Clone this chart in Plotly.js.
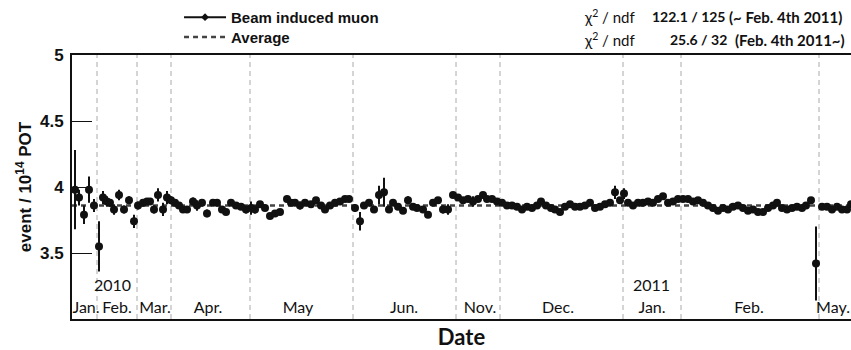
<!DOCTYPE html>
<html>
<head>
<meta charset="utf-8">
<script src="https://cdn.plot.ly/plotly-3.0.1.min.js"></script>
<style>
  html, body { margin: 0; padding: 0; background: #fff; }
  #chart { width: 851px; height: 350px; }
</style>
</head>
<body>
<div id="chart"></div>
<script>
// Position along the compressed run timeline (one unit per run-period step)
const runPos = [
  3, 7, 12, 17, 22,                                                       // Jan 2010
  27, 31, 35, 38, 42, 47, 52, 57, 62,                                     // Feb
  66, 71, 75, 78, 82, 86, 91, 95,                                         // Mar
  99, 103, 107, 111, 115, 121, 125, 130, 135, 141, 145, 150, 154, 159, 164, 169, 174, // Apr
  179, 183, 188, 193, 198, 203, 208, 215, 219, 223, 228, 233, 239, 244, 249, 253, 258, 263, 268, 273, 277, // May
  283, 288, 292, 297, 302, 307, 312, 317, 321, 326, 331, 336, 341, 345, 351, 356, 361, 366, 371, 376, 381, // Jun
  386, 391, 396, 401, 406, 411, 415, 420, 425,                            // Nov
  430, 435, 440, 445, 450, 455, 460, 465, 469, 474, 479, 483, 488, 493, 498, 503, 508, 513, 518, 523, 528, 533, 538, 543, 548, // Dec
  552, 556, 561, 566, 571, 576, 581, 586, 591, 596, 601, 606,             // Jan 2011
  611, 616, 621, 626, 631, 636, 641, 646, 651, 656, 661, 666, 671, 676, 681, 686, 691, 696, 701, 705, 710, 715, 720, 725, 730, 734, 739, 744, // Feb
  750, 755, 760, 765, 770, 775, 779                                       // May
];

// Beam induced muon events per 1e14 POT
const muonRate = [
  3.98, 3.92, 3.79, 3.98, 3.86,
  3.55, 3.92, 3.89, 3.88, 3.83, 3.94, 3.83, 3.90, 3.74,
  3.86, 3.88, 3.89, 3.89, 3.83, 3.94, 3.83, 3.92,
  3.90, 3.88, 3.86, 3.83, 3.83, 3.89, 3.86, 3.88, 3.80, 3.88, 3.88, 3.83, 3.81, 3.88, 3.86, 3.85, 3.83,
  3.84, 3.83, 3.87, 3.84, 3.78, 3.80, 3.81, 3.91, 3.88, 3.88, 3.86, 3.88, 3.87, 3.90, 3.86, 3.83, 3.86, 3.88, 3.89, 3.91, 3.91,
  3.84, 3.74, 3.86, 3.88, 3.83, 3.94, 3.96, 3.83, 3.88, 3.85, 3.82, 3.90, 3.85, 3.84, 3.83, 3.79, 3.88, 3.90, 3.83, 3.83, 3.94,
  3.92, 3.90, 3.91, 3.89, 3.91, 3.94, 3.91, 3.91, 3.89,
  3.88, 3.86, 3.86, 3.85, 3.83, 3.85, 3.84, 3.86, 3.89, 3.86, 3.84, 3.83, 3.81, 3.85, 3.87, 3.85, 3.85, 3.86, 3.88, 3.84, 3.85, 3.87, 3.88, 3.96, 3.90,
  3.95, 3.88, 3.86, 3.88, 3.88, 3.89, 3.88, 3.91, 3.93, 3.88, 3.89, 3.91,
  3.91, 3.91, 3.89, 3.90, 3.88, 3.86, 3.84, 3.82, 3.84, 3.83, 3.85, 3.86, 3.84, 3.82, 3.83, 3.81, 3.81, 3.84, 3.86, 3.88, 3.84, 3.83, 3.84, 3.85, 3.84, 3.86, 3.90, 3.42,
  3.85, 3.85, 3.83, 3.85, 3.83, 3.83, 3.87
];

// Statistical uncertainty of each point
const muonErr = [
  0.30, 0.06, 0.07, 0.10, 0.05,
  0.19, 0.05, 0.04, 0.03, 0.04, 0.04, 0.03, 0.03, 0.05,
  0.03, 0.03, 0.02, 0.02, 0.03, 0.05, 0.05, 0.05,
  0.03, 0.02, 0.02, 0.02, 0.02, 0.03, 0.04, 0.02, 0.03, 0.02, 0.02, 0.02, 0.02, 0.02, 0.02, 0.02, 0.03,
  0.05, 0.03, 0.02, 0.02, 0.02, 0.02, 0.02, 0.02, 0.02, 0.02, 0.03, 0.02, 0.02, 0.02, 0.02, 0.02, 0.02, 0.02, 0.02, 0.02, 0.02,
  0.03, 0.07, 0.02, 0.02, 0.02, 0.07, 0.11, 0.02, 0.02, 0.02, 0.02, 0.03, 0.02, 0.02, 0.02, 0.02, 0.02, 0.02, 0.03, 0.04, 0.02,
  0.02, 0.02, 0.02, 0.04, 0.02, 0.02, 0.02, 0.02, 0.02,
  0.02, 0.02, 0.02, 0.02, 0.02, 0.02, 0.02, 0.02, 0.02, 0.02, 0.02, 0.02, 0.02, 0.02, 0.02, 0.02, 0.02, 0.02, 0.02, 0.02, 0.02, 0.02, 0.02, 0.05, 0.02,
  0.04, 0.02, 0.02, 0.02, 0.02, 0.02, 0.02, 0.02, 0.02, 0.02, 0.02, 0.02,
  0.02, 0.02, 0.02, 0.02, 0.02, 0.02, 0.02, 0.02, 0.02, 0.02, 0.02, 0.02, 0.02, 0.02, 0.02, 0.02, 0.02, 0.02, 0.02, 0.02, 0.02, 0.02, 0.02, 0.02, 0.02, 0.02, 0.02, 0.28,
  0.02, 0.02, 0.02, 0.02, 0.02, 0.02, 0.02
];

const averageRate = 3.86;

// Run-period boundaries and month labels along the timeline
const monthBounds = [25, 65, 99, 178, 281, 384, 428, 551, 609, 747];
const monthCenters = [14, 45, 83, 136, 226, 332, 408, 486, 580, 677, 761];
const monthNames = ['Jan.', 'Feb.', 'Mar.', 'Apr.', 'May', 'Jun.', 'Nov.', 'Dec.', 'Jan.', 'Feb.', 'May.'];
const yearPos = [40, 579];
const yearNames = ['2010', '2011'];
const xRange = [0, 779];

const yTicks = [3, 3.5, 4, 4.5, 5];
const yTickText = ['3', '3.5', '4', '4.5', '5'];

// Fit quality before / after the Feb. 4th 2011 split
const fitLabel = 'χ<sup>2</sup> / ndf';
const fitValues = ['122.1 / 125', '25.6 / 32'];
const fitNotes = ['(~ Feb. 4th 2011)', '(Feb. 4th 2011~)'];

const sans = 'Liberation Sans, Arial, sans-serif';
const soft = 'Lato, Open Sans, sans-serif';

const traces = [
  {
    x: xRange, y: [averageRate, averageRate],
    type: 'scatter', mode: 'lines', name: 'Average', legend: 'legend2',
    line: { color: '#444', width: 2.5, dash: '5px,4px' },
    hoverinfo: 'skip'
  },
  {
    x: runPos, y: muonRate,
    type: 'scatter', mode: 'markers', name: 'Beam induced muon',
    showlegend: false,
    marker: { color: '#111', size: 8, symbol: 'circle' },
    error_y: { type: 'data', array: muonErr, visible: true, color: '#111', thickness: 2, width: 0 },
    cliponaxis: true
  },
  {
    // legend entry for the measured points
    x: [null], y: [null],
    type: 'scatter', mode: 'lines+markers', name: 'Beam induced <b>muon</b>', legend: 'legend',
    line: { color: '#111', width: 2 },
    marker: { color: '#111', size: 6, symbol: 'diamond' }
  }
];

const shapes = monthBounds.map(b => ({
  type: 'line', xref: 'x', yref: 'paper', x0: b, x1: b, y0: 0, y1: 1,
  line: { color: '#aaa', width: 1, dash: '5px,4px' }, layer: 'below'
}));

const annotations = [];
yearNames.forEach((t, i) => annotations.push({
  x: yearPos[i], y: 3.26, xref: 'x', yref: 'y', text: t, showarrow: false,
  font: { family: soft, size: 16, color: '#111' }, xanchor: 'center', yanchor: 'middle'
}));
const fitRowY = [17, 40];
const fitValueLeft = [578, 596];
const fitNoteLeft = [655, 661];
fitValues.forEach((v, i) => {
  const py = (319 - fitRowY[i]) / 264;
  annotations.push({ x: 510, y: py, xref: 'x', yref: 'paper', text: fitLabel, showarrow: false,
    font: { family: soft, size: 15, color: '#111' }, xanchor: 'left', yanchor: 'middle' });
  annotations.push({ x: fitValueLeft[i], y: py, xref: 'x', yref: 'paper', text: v, showarrow: false,
    font: { family: soft, size: 14, color: '#111', weight: 'bold' }, xanchor: 'left', yanchor: 'middle' });
  annotations.push({ x: fitNoteLeft[i], y: py, xref: 'x', yref: 'paper', text: fitNotes[i], showarrow: false,
    font: { family: soft, size: 15, color: '#111', weight: 'bold' }, xanchor: 'left', yanchor: 'middle' });
});

const legendFont = { family: sans, size: 15, color: '#111', weight: 'bold' };

const layout = {
  width: 851, height: 350,
  margin: { l: 72, r: 0, t: 55, b: 31, pad: 0 },
  paper_bgcolor: '#fff', plot_bgcolor: '#fff',
  showlegend: true,
  legend: {
    x: 0.1374, y: 1.205, xanchor: 'left', yanchor: 'top',
    bgcolor: 'rgba(0,0,0,0)', borderwidth: 0, font: legendFont, itemwidth: 42
  },
  legend2: {
    x: 0.1374, y: 1.13, xanchor: 'left', yanchor: 'top',
    bgcolor: 'rgba(0,0,0,0)', borderwidth: 0, font: legendFont, itemwidth: 42
  },
  xaxis: {
    range: xRange, showgrid: false, zeroline: false,
    showline: true, linecolor: '#111', linewidth: 2, mirror: true,
    tickmode: 'array', tickvals: monthCenters, ticktext: monthNames,
    ticks: '', ticklabelposition: 'inside', ticklabelstandoff: 3,
    tickfont: { family: soft, size: 16, color: '#111' },
    title: { text: 'Date', font: { family: soft, size: 22, color: '#111', weight: 'bold' }, standoff: 28 }
  },
  yaxis: {
    range: [3, 5], showgrid: false, zeroline: false,
    showline: true, linecolor: '#111', linewidth: 2, mirror: false,
    tickmode: 'array', tickvals: yTicks, ticktext: yTickText,
    ticks: 'inside', ticklen: 20, tickwidth: 1, tickcolor: '#111', ticklabelstandoff: 3,
    tickfont: { family: sans, size: 17, color: '#111', weight: 'bold' },
    title: { text: 'event / 10<sup>14</sup> POT', font: { family: sans, size: 17, color: '#111', weight: 'bold' }, standoff: 4 }
  },
  shapes: shapes,
  annotations: annotations
};

Plotly.newPlot('chart', traces, layout, { displayModeBar: false, staticPlot: true });
</script>
</body>
</html>
